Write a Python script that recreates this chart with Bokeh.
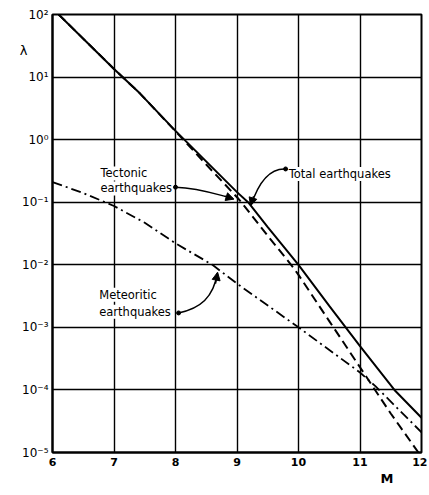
from bokeh.plotting import figure
from bokeh.models import (FixedTicker, CustomJSTickFormatter, Label, Arrow, NormalHead,
                          Range1d, Title, LogAxis)
from bokeh.embed import file_html
from bokeh.resources import INLINE

# ---- data ----
m_ticks = [6, 7, 8, 9, 10, 11, 12]
lam_ticks = [1e-5, 1e-4, 1e-3, 1e-2, 1e-1, 1e0, 1e1, 1e2]

m_total = [6.1, 7.0, 7.42, 8.0, 9.0, 9.18, 9.5, 10.0, 10.5, 11.0, 11.56, 12.0]
lam_total = [1.0e2, 1.35e1, 5.5, 1.38, 1.45e-1, 1.0e-1, 4.0e-2, 1.0e-2, 2.2e-3, 5.0e-4, 1.0e-4, 3.6e-5]

m_tect = [6.1, 7.0, 7.42, 8.0, 8.5, 9.0, 9.07, 9.5, 9.88, 10.0, 10.5, 11.0, 11.5, 11.95]
lam_tect = [1.0e2, 1.35e1, 5.5, 1.36, 4.0e-1, 1.2e-1, 1.0e-1, 2.9e-2, 1.0e-2, 6.9e-3, 1.26e-3, 2.3e-4, 4.2e-5, 1.0e-5]

m_met = [6.0, 6.5, 7.0, 7.5, 8.0, 8.6, 9.0, 10.0, 11.0, 11.25, 12.0]
lam_met = [0.21, 0.14, 0.087, 0.047, 0.022, 0.01, 5.0e-3, 1.0e-3, 1.9e-4, 1.15e-4, 2.1e-5]

y_title = "λ"
y_title_pos = [2.66e1]
x_title = "M"

FONT = "DejaVu Sans"

p = figure(width=427, height=493, x_range=Range1d(6, 12), y_range=Range1d(1e-5, 1e2),
           y_axis_type="log", output_backend="svg", toolbar_location=None,
           min_border_left=52, min_border_right=6, min_border_top=14, min_border_bottom=41)

p.background_fill_color = "white"
p.border_fill_color = "white"
p.outline_line_color = "black"
p.outline_line_width = 2

p.xaxis.ticker = FixedTicker(ticks=m_ticks)
p.yaxis.ticker = FixedTicker(ticks=lam_ticks)
p.yaxis.formatter = CustomJSTickFormatter(code="""
const sup = {'0':'\u2070','1':'\u00b9','2':'\u00b2','3':'\u00b3','4':'\u2074','5':'\u2075','-':'\u207b'};
const e = Math.round(Math.log10(tick)).toString();
let s = '';
for (const c of e) { s += sup[c]; }
return '10' + s;
""")
for ax in (p.xaxis[0], p.yaxis[0]):
    ax.major_tick_in = 0
    ax.major_tick_out = 0
    ax.minor_tick_in = 0
    ax.minor_tick_out = 0
    ax.axis_line_color = "black"
    ax.axis_line_width = 2
    ax.major_label_text_color = "black"
    ax.major_label_text_font = FONT
p.xaxis.major_label_text_font_size = "11px"
p.xaxis.major_label_text_font_style = "bold"
p.xaxis.major_label_standoff = 5
p.yaxis.major_label_text_font_size = "12px"
p.yaxis.major_label_standoff = 4

# outer left axis carrying only the λ symbol near the top
lam_axis = LogAxis(ticker=FixedTicker(ticks=y_title_pos),
                   formatter=CustomJSTickFormatter(code="return '%s';" % y_title),
                   axis_line_color=None, major_tick_in=0, major_tick_out=0,
                   minor_tick_in=0, minor_tick_out=0, major_label_standoff=-8,
                   major_label_text_font=FONT, major_label_text_font_size="13px",
                   major_label_text_color="black")
p.add_layout(lam_axis, "left")

p.xgrid.ticker = FixedTicker(ticks=m_ticks)
p.ygrid.ticker = FixedTicker(ticks=lam_ticks)
p.grid.grid_line_color = "black"
p.grid.grid_line_width = 1.4
p.grid.grid_line_alpha = 1.0
p.ygrid.minor_grid_line_color = None

# curves
p.line(m_tect, lam_tect, line_color="black", line_width=2, line_dash="9 5")
p.line(m_met, lam_met, line_color="black", line_width=1.8, line_dash="10 4 2 4")
p.line(m_total, lam_total, line_color="black", line_width=2)

# annotation leaders
lead_x0 = [8.0, 9.79, 8.05]
lead_y0 = [0.174, 0.34, 1.7e-3]
lead_cx0 = [8.4, 9.55, 8.4]
lead_cy0 = [0.17, 0.35, 2.0e-3]
lead_cx1 = [8.7, 9.36, 8.62]
lead_cy1 = [0.13, 0.22, 3.0e-3]
lead_x1 = [8.93, 9.23, 8.68]
lead_y1 = [0.115, 0.09, 7.4e-3]
p.bezier(x0=lead_x0, y0=lead_y0, x1=lead_x1, y1=lead_y1,
         cx0=lead_cx0, cy0=lead_cy0, cx1=lead_cx1, cy1=lead_cy1,
         line_color="black", line_width=1.5)
p.scatter(lead_x0, lead_y0, size=4, color="black")
heads = [(8.8, 0.125, 8.95, 0.112), (9.27, 0.125, 9.22, 0.088), (8.65, 5.0e-3, 8.685, 7.6e-3)]
for xs, ys, xe, ye in heads:
    p.add_layout(Arrow(end=NormalHead(size=8, fill_color="black", line_color="black"),
                       x_start=xs, y_start=ys, x_end=xe, y_end=ye,
                       line_color="black", line_width=1.5))

texts = [("Tectonic", 6.78, 10**-0.54), ("earthquakes", 6.78, 10**-0.78),
         ("Total earthquakes", 9.84, 10**-0.55),
         ("Meteoritic", 6.76, 10**-2.48), ("earthquakes", 6.76, 10**-2.75)]
for t, x, y in texts:
    p.add_layout(Label(x=x, y=y, text=t, text_font=FONT, text_font_size="11.5px",
                       text_color="black", text_baseline="middle", text_align="left",
                       background_fill_color="white", background_fill_alpha=1.0))

p.add_layout(Title(text=x_title, align="left", offset=328, standoff=0, text_font=FONT,
                   text_font_size="13px", text_font_style="bold", text_color="black"), "below")

open("out.html", "w").write(file_html(p, INLINE))
